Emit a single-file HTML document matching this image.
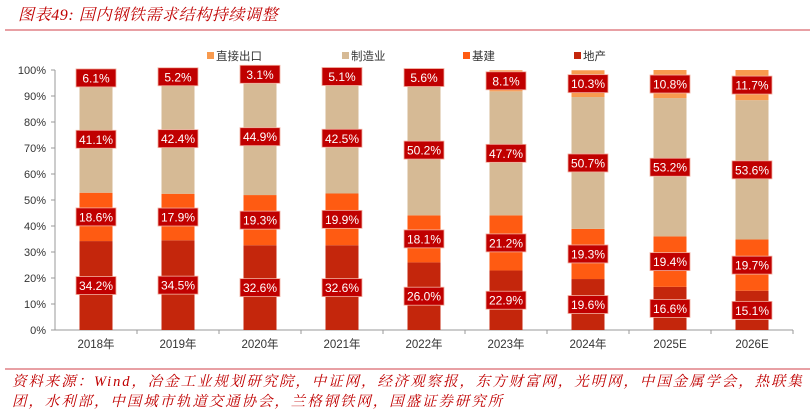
<!DOCTYPE html>
<html><head><meta charset="utf-8"><style>
body{margin:0;background:#fff;width:810px;height:414px;overflow:hidden;font-family:"Liberation Sans","Noto Sans CJK SC",sans-serif}
</style></head><body>
<svg width="810" height="414" id="chart" xmlns="http://www.w3.org/2000/svg">
<text x="18" y="20" fill="#C00000" font-size="16" font-style="italic" letter-spacing="0.6" font-family="'Liberation Serif','Noto Serif CJK SC',serif">图表49:  国内钢铁需求结构持续调整</text>
<line x1="5" y1="30" x2="810" y2="30" stroke="#D0404A" stroke-width="1"/>
<line x1="5" y1="369" x2="810" y2="369" stroke="#D0404A" stroke-width="1"/>
<text x="12" y="386" fill="#C00000" font-size="14.5" font-style="italic" letter-spacing="1.9" font-family="'Liberation Serif','Noto Serif CJK SC',serif">资料来源：Wind，冶金工业规划研究院，中证网，经济观察报，东方财富网，光明网，中国金属学会，热联集</text>
<text x="12" y="406" fill="#C00000" font-size="14.5" font-style="italic" letter-spacing="1.9" font-family="'Liberation Serif','Noto Serif CJK SC',serif">团，水利部，中国城市轨道交通协会，兰格钢铁网，国盛证券研究所</text>
<g id="plot"></g>
</svg>
<script>
const categories=["2018年","2019年","2020年","2021年","2022年","2023年","2024年","2025E","2026E"];
const realEstate=[34.2,34.5,32.6,32.6,26.0,22.9,19.6,16.6,15.1];
const infra=[18.6,17.9,19.3,19.9,18.1,21.2,19.3,19.4,19.7];
const manuf=[41.1,42.4,44.9,42.5,50.2,47.7,50.7,53.2,53.6];
const exportsD=[6.1,5.2,3.1,5.1,5.6,8.1,10.3,10.8,11.7];
const yTicks=[0,10,20,30,40,50,60,70,80,90,100];
const seriesNames=["直接出口","制造业","基建","地产"];

const NS="http://www.w3.org/2000/svg";
const g=document.getElementById('plot');
const x0=55,x1=793,yTop=70,yBot=330;
const band=(x1-x0)/categories.length;
const y=v=>yBot-(v/100)*(yBot-yTop);
const xc=i=>x0+band*(i+0.5);
function mk(t,a){const e=document.createElementNS(NS,t);for(const k in a)e.setAttribute(k,a[k]);g.appendChild(e);return e;}

yTicks.forEach(t=>{
  const tx=mk('text',{x:46,y:y(t)+4,'text-anchor':'end','font-size':11,fill:'#333'});
  tx.textContent=t+'%';
  
  
  const tk=mk('line',{x1:x0-4,x2:x0,y1:y(t),y2:y(t),stroke:'#999'});
  
  
});
const ya=mk('line',{x1:x0,x2:x0,y1:yTop,y2:yBot,stroke:'#999'});


const xa=mk('line',{x1:x0,x2:x1,y1:yBot,y2:yBot,stroke:'#999'});



const series=[
 {d:realEstate,c:'#C4260C',n:'real-estate'},
 {d:infra,c:'#FF5B12',n:'infrastructure'},
 {d:manuf,c:'#D6BA95',n:'manufacturing'},
 {d:exportsD,c:'#F89A4E',n:'direct-export'}];
const bw=33;
categories.forEach((c,i)=>{
  const tk=mk('line',{x1:x0+band*(i+1),x2:x0+band*(i+1),y1:yBot,y2:yBot+4,stroke:'#999'});
  
  
  const lb=mk('text',{x:xc(i),y:yBot+18,'text-anchor':'middle','font-size':11.5,fill:'#333'});
  lb.textContent=c;
  
  
  let cum=0;
  series.forEach(s=>{
    const v=s.d[i];const top=Math.min(cum+v,100);
    const r=mk('rect',{x:xc(i)-bw/2,y:y(top),width:bw,height:y(cum)-y(top),fill:s.c});
    
    
    const mid=y((cum+top)/2);
    const bx=mk('rect',{x:xc(i)-20,y:mid-9,width:40,height:18,fill:'#C00000',stroke:'#F3B0A0','stroke-width':0.8});
    
    
    const t=mk('text',{x:xc(i),y:mid+4.5,'text-anchor':'middle','font-size':12,fill:'#fff'});
    t.textContent=v.toFixed(1)+'%';
    
    
    cum=top;
  });
});
const legX=[207,342,463,574];
const legC=['#F89A4E','#D6BA95','#FF5B12','#C4260C'];
seriesNames.forEach((n,i)=>{
  const r=mk('rect',{x:legX[i],y:52,width:7,height:7,fill:legC[i]});
  
  
  const t=mk('text',{x:legX[i]+9,y:60,'font-size':11.5,fill:'#333'});
  t.textContent=n;
  
  
});
</script>
</body></html>
